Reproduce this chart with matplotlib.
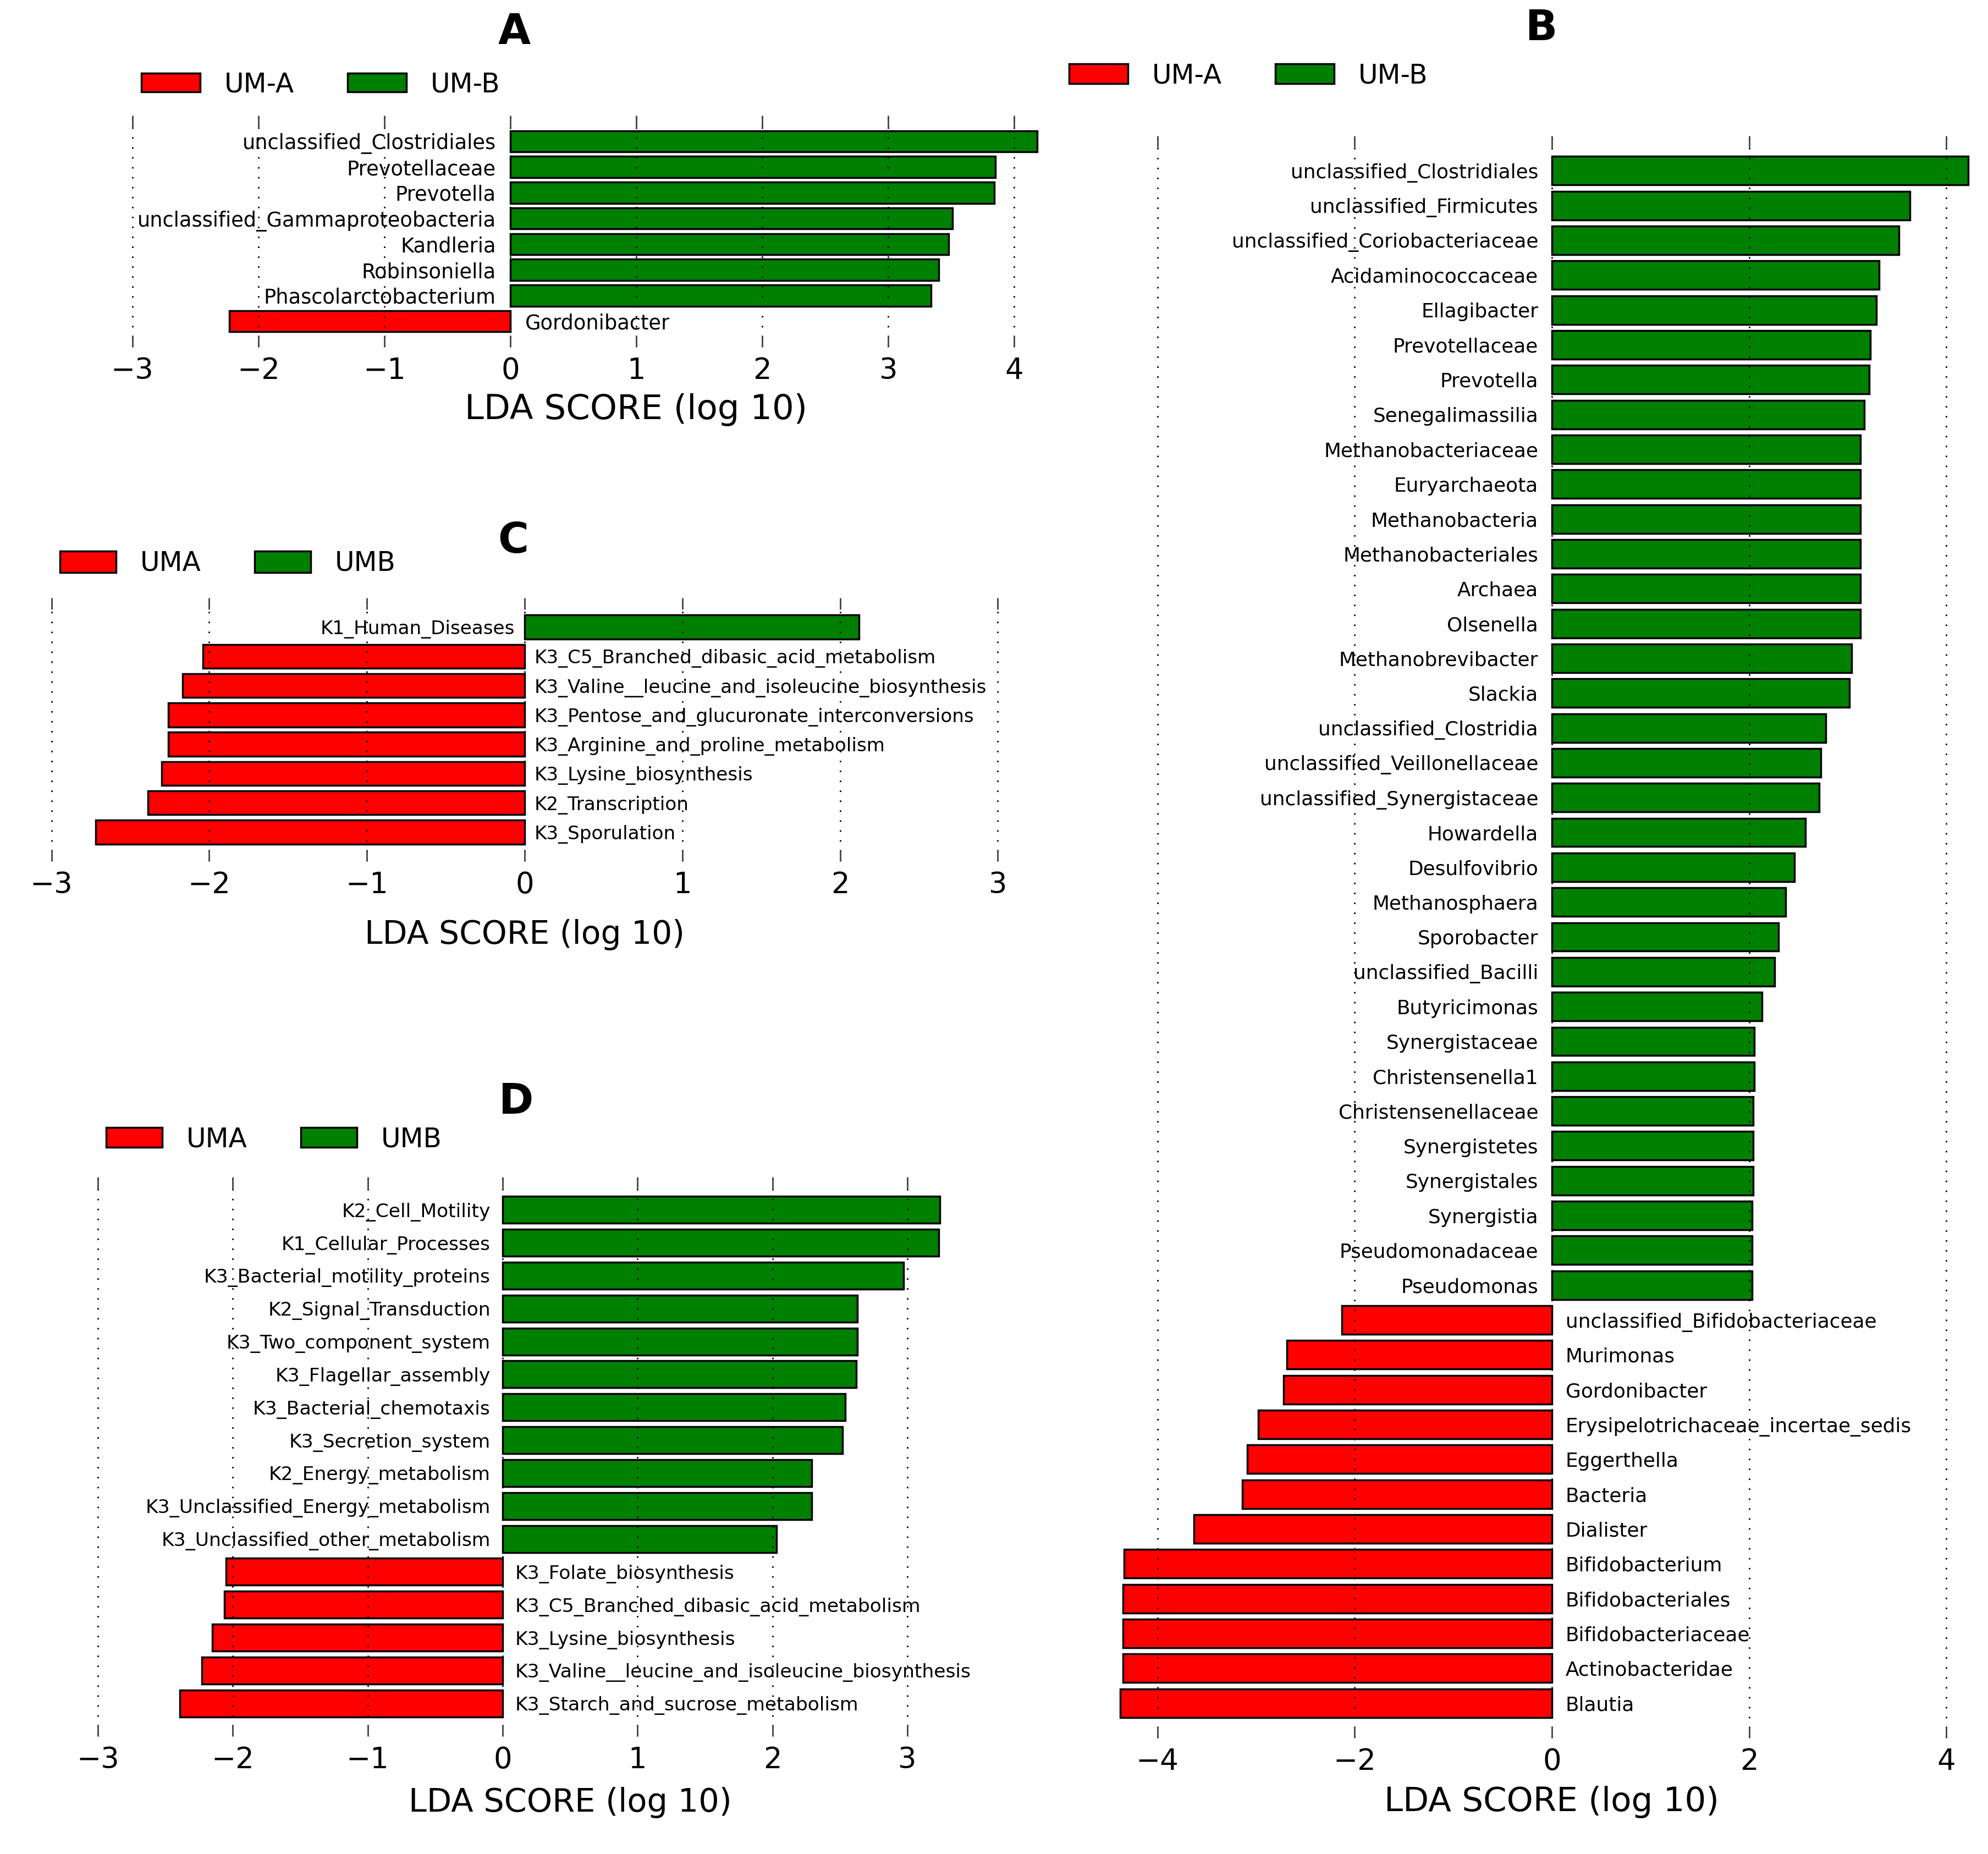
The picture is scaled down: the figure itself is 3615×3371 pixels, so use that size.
import numpy as np
import matplotlib
matplotlib.use('Agg')
import matplotlib.pyplot as plt
from matplotlib.patches import Patch

# panel A - taxa
a_names = ['unclassified_Clostridiales', 'Prevotellaceae', 'Prevotella',
           'unclassified_Gammaproteobacteria', 'Kandleria', 'Robinsoniella',
           'Phascolarctobacterium', 'Gordonibacter']
a_vals = [4.18, 3.85, 3.84, 3.51, 3.48, 3.40, 3.34, -2.23]

# panel B - taxa
b_names = ['unclassified_Clostridiales', 'unclassified_Firmicutes',
           'unclassified_Coriobacteriaceae', 'Acidaminococcaceae', 'Ellagibacter',
           'Prevotellaceae', 'Prevotella', 'Senegalimassilia', 'Methanobacteriaceae',
           'Euryarchaeota', 'Methanobacteria', 'Methanobacteriales', 'Archaea',
           'Olsenella', 'Methanobrevibacter', 'Slackia', 'unclassified_Clostridia',
           'unclassified_Veillonellaceae', 'unclassified_Synergistaceae', 'Howardella',
           'Desulfovibrio', 'Methanosphaera', 'Sporobacter', 'unclassified_Bacilli',
           'Butyricimonas', 'Synergistaceae', 'Christensenella1', 'Christensenellaceae',
           'Synergistetes', 'Synergistales', 'Synergistia', 'Pseudomonadaceae',
           'Pseudomonas', 'unclassified_Bifidobacteriaceae', 'Murimonas', 'Gordonibacter',
           'Erysipelotrichaceae_incertae_sedis', 'Eggerthella', 'Bacteria', 'Dialister',
           'Bifidobacterium', 'Bifidobacteriales', 'Bifidobacteriaceae',
           'Actinobacteridae', 'Blautia']
b_vals = [4.22, 3.63, 3.52, 3.32, 3.29, 3.23, 3.22, 3.17, 3.13, 3.13, 3.13, 3.13,
          3.13, 3.13, 3.04, 3.02, 2.78, 2.73, 2.71, 2.57, 2.46, 2.37, 2.30, 2.26,
          2.13, 2.05, 2.05, 2.04, 2.04, 2.04, 2.03, 2.03, 2.03,
          -2.13, -2.69, -2.72, -2.98, -3.09, -3.14, -3.63, -4.34, -4.35, -4.35,
          -4.35, -4.38]

# panel C - pathways
c_names = ['K1_Human_Diseases', 'K3_C5_Branched_dibasic_acid_metabolism',
           'K3_Valine__leucine_and_isoleucine_biosynthesis',
           'K3_Pentose_and_glucuronate_interconversions',
           'K3_Arginine_and_proline_metabolism', 'K3_Lysine_biosynthesis',
           'K2_Transcription', 'K3_Sporulation']
c_vals = [2.12, -2.04, -2.17, -2.26, -2.26, -2.30, -2.39, -2.72]

# panel D - pathways
d_names = ['K2_Cell_Motility', 'K1_Cellular_Processes', 'K3_Bacterial_motility_proteins',
           'K2_Signal_Transduction', 'K3_Two_component_system', 'K3_Flagellar_assembly',
           'K3_Bacterial_chemotaxis', 'K3_Secretion_system', 'K2_Energy_metabolism',
           'K3_Unclassified_Energy_metabolism', 'K3_Unclassified_other_metabolism',
           'K3_Folate_biosynthesis', 'K3_C5_Branched_dibasic_acid_metabolism',
           'K3_Lysine_biosynthesis', 'K3_Valine__leucine_and_isoleucine_biosynthesis',
           'K3_Starch_and_sucrose_metabolism']
d_vals = [3.24, 3.23, 2.97, 2.63, 2.63, 2.62, 2.54, 2.52, 2.29, 2.29, 2.03,
          -2.05, -2.06, -2.15, -2.23, -2.39]

W, H = 3616, 3371
fig = plt.figure(figsize=(W / 100, H / 100), dpi=100)


def panel(zero, unit, xlim, top, bottom):
    left = zero + xlim[0] * unit
    right = zero + xlim[1] * unit
    return fig.add_axes([left / W, 1 - bottom / H, (right - left) / W, (bottom - top) / H],
                        frame_on=False)


def lefse(ax, names, vals, xlim, ticks, fs=25, off=16):
    n = len(names)
    pos = np.arange(n)[::-1]
    cols = ['green' if v > 0 else 'red' for v in vals]
    ax.barh(pos, vals, height=0.82, color=cols, edgecolor='black', lw=2.5)
    for p, v, s in zip(pos, vals, names):
        if v > 0:
            ax.annotate(s, (0, p), xytext=(-off, 0), textcoords='offset points',
                        ha='right', va='center_baseline', fontsize=fs)
        else:
            ax.annotate(s, (0, p), xytext=(off, 0), textcoords='offset points',
                        ha='left', va='center_baseline', fontsize=fs)
    ax.set_ylim(-1, n)
    ax.set_xlim(xlim)
    ax.set_xticks(ticks)
    ax.set_yticks([])
    ax.grid(axis='x', linestyle=(0, (1, 5.5)), color='black', lw=2)
    ax.tick_params(axis='x', direction='in', top=True, bottom=True, length=15,
                   width=2, color='#444444', labelsize=38, pad=12)


def legend(x, y, labels, hl, hh):
    handles = [Patch(facecolor='red', edgecolor='black', lw=2.5),
               Patch(facecolor='green', edgecolor='black', lw=2.5)]
    fig.legend(handles, labels, loc='center left', bbox_to_anchor=(x / W, 1 - y / H),
               ncol=2, frameon=False, fontsize=35, handlelength=hl, handleheight=hh,
               handletextpad=0.9, columnspacing=2.0, borderpad=0, borderaxespad=0)


def xlab(ax, x, y, fs):
    ax.set_xlabel('LDA SCORE (log 10)', fontsize=fs)
    ax.xaxis.set_label_coords(x / W, 1 - y / H, transform=fig.transFigure)
    ax.xaxis.label.set_va('center')


# A
ax = panel(928, 229.1, (-3.05, 4.2), 210, 631)
lefse(ax, a_names, a_vals, (-3.05, 4.2), range(-3, 5), fs=26.5, off=19)
xlab(ax, 1157, 745, 45)
legend(257, 153, ['UM-A', 'UM-B'], 2.2, 0.7)
fig.text(935 / W, 1 - 59 / H, 'A', ha='center', va='center', fontsize=55, weight='bold')

# B
ax = panel(2822, 179.3, (-4.4, 4.25), 247, 3160)
lefse(ax, b_names, b_vals, (-4.4, 4.25), range(-4, 5, 2), fs=25.8, off=18)
xlab(ax, 2822, 3277, 44)
legend(1944, 137, ['UM-A', 'UM-B'], 2.2, 0.75)
fig.text(2803 / W, 1 - 52 / H, 'B', ha='center', va='center', fontsize=55, weight='bold')

# C
ax = panel(954, 286.8, (-3.02, 3.02), 1087, 1566)
lefse(ax, c_names, c_vals, (-3.02, 3.02), range(-3, 4), fs=24.6, off=13)
xlab(ax, 954, 1700, 42)
legend(109, 1024, ['UMA', 'UMB'], 2.1, 0.85)
fig.text(933 / W, 1 - 984 / H, 'C', ha='center', va='center', fontsize=55, weight='bold')

# D
ax = panel(914, 245.4, (-3.02, 3.26), 2140, 3157)
lefse(ax, d_names, d_vals, (-3.02, 3.26), range(-3, 4), fs=24.8, off=16)
xlab(ax, 1037, 3278, 42.5)
legend(193, 2071, ['UMA', 'UMB'], 2.1, 0.75)
fig.text(939 / W, 1 - 2004 / H, 'D', ha='center', va='center', fontsize=55, weight='bold')

fig.savefig('out.png', dpi=100, facecolor='white')
